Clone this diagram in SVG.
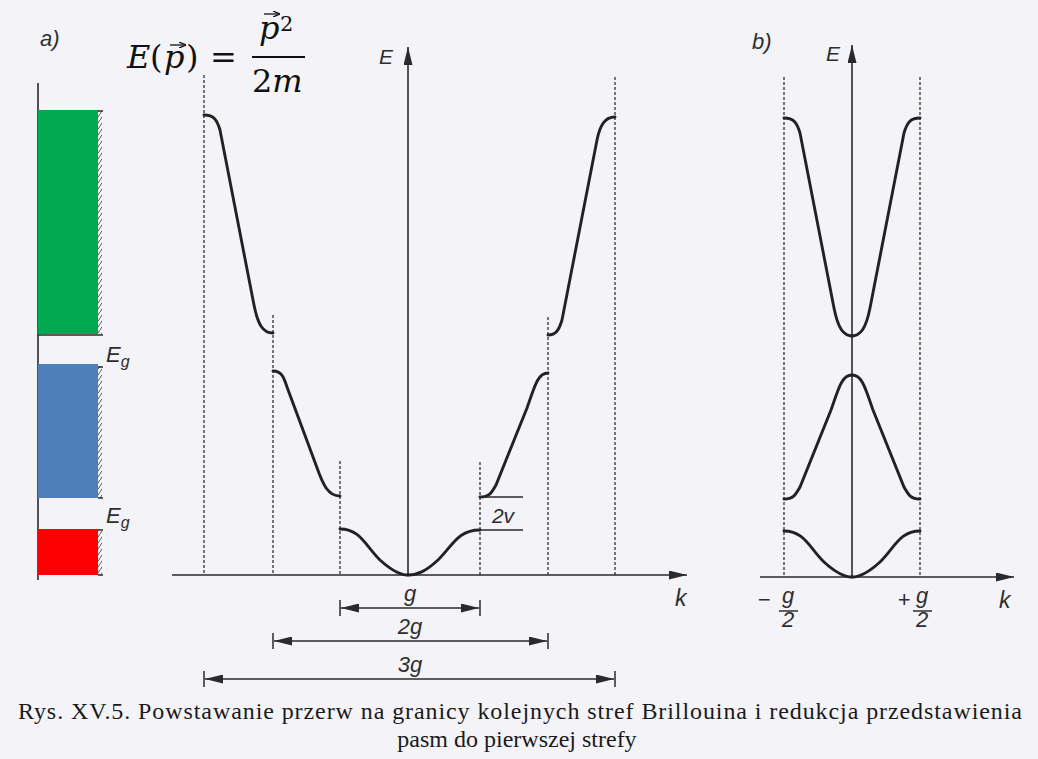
<svg xmlns="http://www.w3.org/2000/svg" width="1038" height="759" viewBox="0 0 1038 759">
<style>
.ax{stroke:#2a2a2a;stroke-width:1.6;fill:none}
.dash{stroke:#333;stroke-width:1.3;stroke-dasharray:3 2;fill:none}
.cv{stroke:#222;stroke-width:2.9;fill:none;stroke-linecap:round}
.thin{stroke:#2a2a2a;stroke-width:1.5;fill:none}
.lab{font-family:"Liberation Sans",Arial,sans-serif;font-style:italic;fill:#2e2e2e}
.mth{font-family:"DejaVu Serif","Liberation Serif",serif;fill:#111}
.cap{font-family:"Liberation Serif","Times New Roman",serif;font-size:24px;fill:#1a1a1a}
</style>
<defs>
<marker id="ah" viewBox="0 0 18 9" refX="18" refY="4.5" markerWidth="18" markerHeight="9" markerUnits="userSpaceOnUse" orient="auto-start-reverse">
<path d="M0,0 L18,4.5 L0,9 z" fill="#2a2a2a"/>
</marker>
<marker id="vec" viewBox="0 0 7 6" refX="7" refY="3" markerWidth="7" markerHeight="6" markerUnits="userSpaceOnUse" orient="auto">
<path d="M0,0 L7,3 L0,6" fill="none" stroke="#111" stroke-width="1.3"/>
</marker>
<pattern id="hatch" width="4" height="6" patternUnits="userSpaceOnUse">
<path d="M0,6 L4,0" stroke="#444" stroke-width="0.9"/>
</pattern>
<path id="b1L" d="M340,529 C360,529 365,545 380,560 C392,571 400,575 408,575"/>
<path id="b2R" d="M480,497 C490,497 492,492 496,485 L527,408 C535,385 538,373 548,373"/>
<path id="b3L" d="M204,115 C214,115 217,120 220,130 L254,305 C258,325 263,333 273,333"/>
</defs>

<rect width="1038" height="759" fill="#f3f3f8"/>

<g id="panel-a-label"><text class="lab" x="40" y="46" font-size="22">a)</text></g>

<g id="formula">
<text class="mth" x="127" y="68" font-size="32" font-style="italic">E</text>
<text class="mth" x="150" y="68" font-size="32">(</text>
<text class="mth" x="164" y="68" font-size="32" font-style="italic">p</text>
<path d="M170,45 L186,45" stroke="#111" stroke-width="1.3" marker-end="url(#vec)"/>
<text class="mth" x="186" y="68" font-size="32">)</text>
<text class="mth" x="210" y="68" font-size="32">=</text>
<text class="mth" x="259" y="39" font-size="32" font-style="italic">p</text>
<path d="M264,14 L280,14" stroke="#111" stroke-width="1.3" marker-end="url(#vec)"/>
<text class="mth" x="280" y="31" font-size="21">2</text>
<line x1="252" y1="57" x2="305" y2="57" stroke="#111" stroke-width="2"/>
<text class="mth" x="252" y="92" font-size="32">2<tspan font-style="italic">m</tspan></text>
</g>

<g id="band-bars">
<line class="ax" x1="38" y1="83" x2="38" y2="580" stroke-width="2"/>
<rect x="38" y="110" width="60" height="224" fill="#00a84f"/>
<rect x="38" y="364" width="60" height="134" fill="#4f7fba"/>
<rect x="38" y="529" width="60" height="46" fill="#ff0000"/>
<rect x="98" y="110" width="4" height="224" fill="url(#hatch)"/>
<rect x="98" y="366" width="4" height="132" fill="url(#hatch)"/>
<rect x="98" y="531" width="4" height="44" fill="url(#hatch)"/>
<g class="thin">
<line x1="98" y1="111" x2="103" y2="111"/>
<line x1="38" y1="335" x2="103" y2="335"/>
<line x1="98" y1="367" x2="103" y2="367"/>
<line x1="98" y1="498" x2="103" y2="498"/>
<line x1="98" y1="530" x2="103" y2="530"/>
<line x1="98" y1="575" x2="103" y2="575"/>
</g>
<text class="lab" x="106" y="362" font-size="22">E<tspan font-size="16" dy="5">g</tspan></text>
<text class="lab" x="106" y="523" font-size="22">E<tspan font-size="16" dy="5">g</tspan></text>
</g>

<g id="panel-a">
<g id="a-dashed" class="dash">
<line x1="204" y1="75" x2="204" y2="575"/>
<line x1="273" y1="315" x2="273" y2="575"/>
<line x1="340" y1="461" x2="340" y2="575"/>
<line x1="480" y1="462" x2="480" y2="575"/>
<line x1="548" y1="317" x2="548" y2="575"/>
<line x1="615" y1="77" x2="615" y2="575"/>
</g>
<g id="a-axes" class="ax">
<line x1="408" y1="575" x2="408" y2="47" marker-end="url(#ah)"/>
<line x1="172" y1="575" x2="687" y2="575" marker-end="url(#ah)"/>
</g>
<text class="lab" x="379" y="64" font-size="21">E</text>
<text class="lab" x="675" y="606" font-size="23">k</text>
<g id="a-curves" class="cv">
<use href="#b1L"/>
<path d="M408,575 C418,575 426,571 438,560 C453,545 458,530 480,530"/>
<path d="M273,371 C282,371 284,378 287,387 L316,465 C323,485 328,496 340,496"/>
<use href="#b2R"/>
<use href="#b3L"/>
<path d="M548,335 C556,335 559,330 562,320 L597,140 C600,125 605,117 615,117"/>
</g>
<g id="gap-2v" class="thin">
<line x1="480" y1="497" x2="523" y2="497"/>
<line x1="480" y1="530" x2="523" y2="530"/>
</g>
<text class="lab" x="503" y="523" font-size="21" text-anchor="middle">2v</text>
<g id="dims" class="thin">
<line x1="340" y1="600" x2="340" y2="616"/>
<line x1="480" y1="600" x2="480" y2="616"/>
<line x1="341" y1="608" x2="479" y2="608" marker-start="url(#ah)" marker-end="url(#ah)"/>
<line x1="273" y1="633" x2="273" y2="649"/>
<line x1="548" y1="633" x2="548" y2="649"/>
<line x1="274" y1="641" x2="547" y2="641" marker-start="url(#ah)" marker-end="url(#ah)"/>
<line x1="204" y1="671" x2="204" y2="687"/>
<line x1="615" y1="671" x2="615" y2="687"/>
<line x1="205" y1="679" x2="614" y2="679" marker-start="url(#ah)" marker-end="url(#ah)"/>
</g>
<text class="lab" x="410" y="601" font-size="22" text-anchor="middle">g</text>
<text class="lab" x="410" y="634" font-size="22" text-anchor="middle">2g</text>
<text class="lab" x="410" y="672" font-size="22" text-anchor="middle">3g</text>
</g>

<g id="panel-b">
<text class="lab" x="752" y="49" font-size="22">b)</text>
<g class="dash">
<line x1="784" y1="77" x2="784" y2="577"/>
<line x1="920" y1="77" x2="920" y2="577"/>
</g>
<g class="ax">
<line x1="852" y1="577" x2="852" y2="45" marker-end="url(#ah)"/>
<line x1="760" y1="577" x2="1014" y2="577" marker-end="url(#ah)"/>
</g>
<text class="lab" x="826" y="61" font-size="21">E</text>
<text class="lab" x="999" y="608" font-size="23">k</text>
<g id="b-curves" class="cv">
<use href="#b3L" transform="translate(580,3)"/>
<use href="#b3L" transform="translate(1704,0) scale(-1,1) translate(580,3)"/>
<use href="#b2R" transform="translate(304,2)"/>
<use href="#b2R" transform="translate(1704,0) scale(-1,1) translate(304,2)"/>
<use href="#b1L" transform="translate(444,2)"/>
<use href="#b1L" transform="translate(1704,0) scale(-1,1) translate(444,2)"/>
</g>
<g id="b-ticks">
<text class="lab" x="764" y="607" font-size="22" text-anchor="middle">−</text>
<text class="lab" x="788" y="603" font-size="22" text-anchor="middle">g</text>
<line x1="779" y1="611" x2="798" y2="611" stroke="#2e2e2e" stroke-width="1.5"/>
<text class="lab" x="788" y="627" font-size="22" text-anchor="middle">2</text>
<text class="lab" x="904" y="607" font-size="22" text-anchor="middle">+</text>
<text class="lab" x="922" y="603" font-size="22" text-anchor="middle">g</text>
<line x1="913" y1="611" x2="932" y2="611" stroke="#2e2e2e" stroke-width="1.5"/>
<text class="lab" x="922" y="627" font-size="22" text-anchor="middle">2</text>
</g>
</g>

<g id="caption">
<text class="cap" x="18" y="719" textLength="1004" lengthAdjust="spacing">Rys. XV.5. Powstawanie przerw na granicy kolejnych stref Brillouina i redukcja  przedstawienia</text>
<text class="cap" x="517" y="747" text-anchor="middle">pasm do pierwszej strefy</text>
</g>
</svg>
